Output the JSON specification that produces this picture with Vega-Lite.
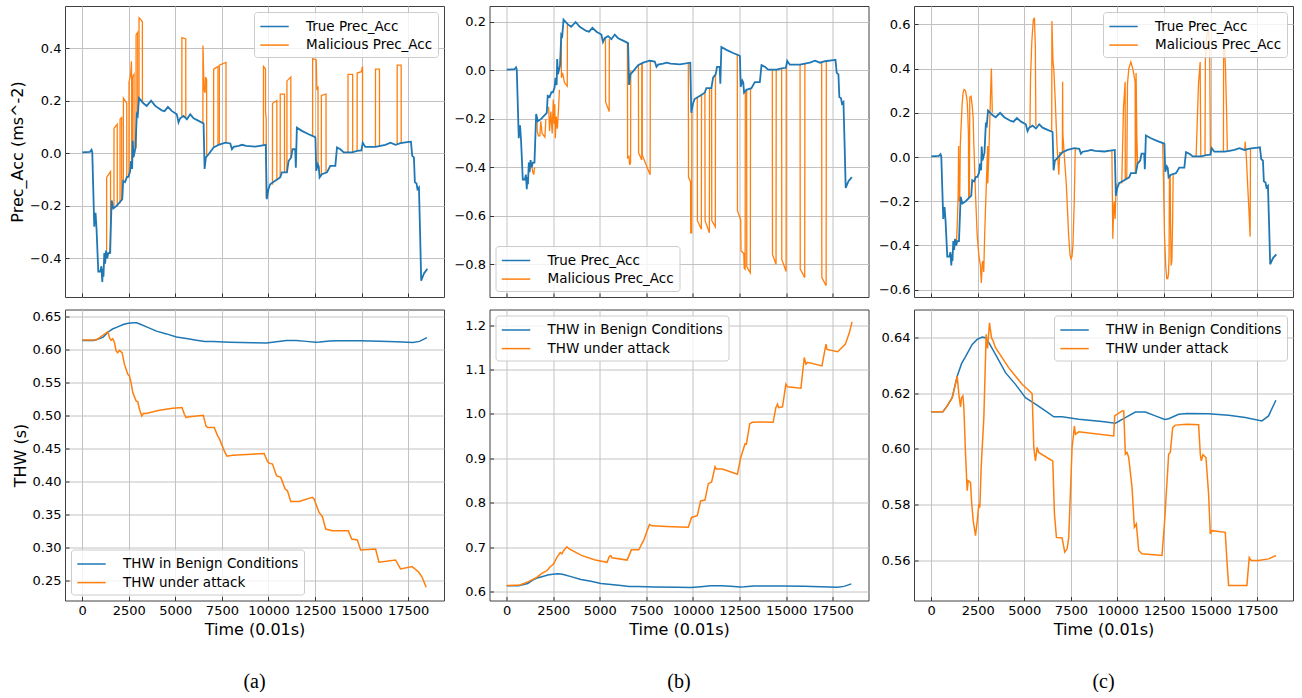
{
  "$schema": "https://vega.github.io/schema/vega-lite/v6.json",
  "padding": {"left": 8, "top": 5, "right": 8, "bottom": 0},
  "background": "white",
  "config": {
    "font": "DejaVu Sans",
    "view": {"stroke": "#404040", "strokeWidth": 1},
    "axis": {"labelFont": "DejaVu Sans", "labelFontSize": 13, "labelColor": "#000", "titleFont": "DejaVu Sans", "titleFontSize": 16, "titleFontWeight": "normal", "titleColor": "#000", "gridColor": "#c2c2c2", "gridWidth": 1, "domain": false, "tickColor": "#333", "tickSize": -4, "labelPadding": 8, "titlePadding": 4, "labelOverlap": false, "tickCount": 20},
    "legend": {"labelFont": "DejaVu Sans", "labelFontSize": 13.5, "labelColor": "#000", "labelLimit": 400, "symbolType": "M-1.7,0L1.7,0", "symbolSize": 280, "symbolOffset": 6, "symbolStrokeWidth": 1.5, "labelOffset": 22, "padding": 5, "rowPadding": 2.6, "fillColor": "rgba(255,255,255,0.8)", "strokeColor": "#cccccc", "cornerRadius": 3, "offset": 6, "title": null}
  },
  "datasets": {
    "true_acc": [
      {"t":0,"v":0.003},{"t":413,"v":0.005},{"t":500,"v":0.013},{"t":540,"v":0.003},{"t":646,"v":-0.28},{"t":680,"v":-0.23},{"t":718,"v":-0.23},{"t":770,"v":-0.29},{"t":862,"v":-0.45},{"t":970,"v":-0.45},{"t":1030,"v":-0.43},{"t":1077,"v":-0.49},{"t":1110,"v":-0.44},{"t":1140,"v":-0.47},{"t":1185,"v":-0.38},{"t":1230,"v":-0.42},{"t":1280,"v":-0.37},{"t":1340,"v":-0.40},{"t":1400,"v":-0.38},{"t":1490,"v":-0.38},{"t":1580,"v":-0.18},{"t":1670,"v":-0.21},{"t":1850,"v":-0.2},{"t":2150,"v":-0.175},{"t":2200,"v":-0.105},{"t":2300,"v":-0.11},{"t":2400,"v":-0.09},{"t":2480,"v":-0.09},{"t":2570,"v":-0.07},{"t":2620,"v":-0.03},{"t":2680,"v":-0.06},{"t":2710,"v":0.047},{"t":2750,"v":-0.016},{"t":2800,"v":0.0},{"t":2860,"v":0.02},{"t":2930,"v":0.148},{"t":2980,"v":0.142},{"t":3050,"v":0.21},{"t":3285,"v":0.19},{"t":3460,"v":0.18},{"t":3700,"v":0.2},{"t":3920,"v":0.18},{"t":4270,"v":0.163},{"t":4420,"v":0.16},{"t":4600,"v":0.176},{"t":4820,"v":0.16},{"t":5080,"v":0.148},{"t":5170,"v":0.117},{"t":5260,"v":0.133},{"t":5440,"v":0.142},{"t":5620,"v":0.129},{"t":5800,"v":0.148},{"t":5980,"v":0.133},{"t":6250,"v":0.123},{"t":6515,"v":0.113},{"t":6570,"v":-0.06},{"t":6640,"v":-0.016},{"t":6785,"v":-0.004},{"t":7055,"v":0.022},{"t":7325,"v":0.032},{"t":7680,"v":0.04},{"t":7950,"v":0.037},{"t":8040,"v":0.015},{"t":8130,"v":0.024},{"t":8400,"v":0.028},{"t":8580,"v":0.032},{"t":8800,"v":0.028},{"t":9300,"v":0.025},{"t":9856,"v":0.032},{"t":9910,"v":-0.175},{"t":10000,"v":-0.137},{"t":10090,"v":-0.118},{"t":10360,"v":-0.105},{"t":10630,"v":-0.092},{"t":10720,"v":-0.073},{"t":10990,"v":-0.073},{"t":11080,"v":-0.03},{"t":11220,"v":-0.016},{"t":11290,"v":0.015},{"t":11435,"v":0.015},{"t":11470,"v":-0.055},{"t":11525,"v":0.097},{"t":11795,"v":0.085},{"t":12155,"v":0.072},{"t":12480,"v":0.062},{"t":12520,"v":0.06},{"t":12565,"v":-0.067},{"t":12650,"v":-0.042},{"t":12700,"v":-0.05},{"t":12745,"v":-0.092},{"t":12870,"v":-0.08},{"t":13140,"v":-0.073},{"t":13320,"v":-0.048},{"t":13590,"v":-0.048},{"t":13680,"v":0.022},{"t":13860,"v":0.015},{"t":14040,"v":0.003},{"t":14490,"v":0.003},{"t":14760,"v":0.009},{"t":14990,"v":0.011},{"t":15060,"v":0.04},{"t":15200,"v":0.024},{"t":15745,"v":0.024},{"t":16010,"v":0.028},{"t":16280,"v":0.032},{"t":16550,"v":0.04},{"t":16820,"v":0.032},{"t":17090,"v":0.038},{"t":17540,"v":0.043},{"t":17650,"v":0.044},{"t":17720,"v":-0.01},{"t":17810,"v":-0.016},{"t":17860,"v":-0.11},{"t":17950,"v":-0.115},{"t":18000,"v":-0.137},{"t":18080,"v":-0.13},{"t":18140,"v":-0.3},{"t":18200,"v":-0.485},{"t":18350,"v":-0.457},{"t":18530,"v":-0.44}
    ],
    "mal_a": [
      {"seg":1,"t":1310,"v":-0.37},{"seg":1,"t":1312,"v":-0.092},{"seg":1,"t":1520,"v":-0.07},{"seg":1,"t":1522,"v":-0.38},
      {"seg":2,"t":1705,"v":-0.2},{"seg":2,"t":1707,"v":0.095},{"seg":2,"t":1880,"v":0.11},{"seg":2,"t":1882,"v":-0.2},
      {"seg":3,"t":2030,"v":-0.19},{"seg":3,"t":2032,"v":0.13},{"seg":3,"t":2120,"v":0.135},{"seg":3,"t":2122,"v":-0.18},
      {"seg":4,"t":2210,"v":-0.105},{"seg":4,"t":2212,"v":0.21},{"seg":4,"t":2300,"v":0.2},{"seg":4,"t":2390,"v":0.19},{"seg":4,"t":2392,"v":-0.095},
      {"seg":5,"t":2510,"v":-0.085},{"seg":5,"t":2512,"v":0.27},{"seg":5,"t":2600,"v":0.3},{"seg":5,"t":2640,"v":0.35},{"seg":5,"t":2655,"v":0.28},{"seg":5,"t":2657,"v":-0.05},
      {"seg":6,"t":2690,"v":-0.03},{"seg":6,"t":2692,"v":0.29},{"seg":6,"t":2780,"v":0.3},{"seg":6,"t":2782,"v":0.0},
      {"seg":7,"t":2890,"v":0.02},{"seg":7,"t":2892,"v":0.45},{"seg":7,"t":2980,"v":0.46},{"seg":7,"t":2982,"v":0.148},
      {"seg":8,"t":3050,"v":0.21},{"seg":8,"t":3052,"v":0.515},{"seg":8,"t":3130,"v":0.51},{"seg":8,"t":3230,"v":0.5},{"seg":8,"t":3232,"v":0.19},
      {"seg":9,"t":5350,"v":0.14},{"seg":9,"t":5352,"v":0.44},{"seg":9,"t":5560,"v":0.435},{"seg":9,"t":5562,"v":0.135},
      {"seg":10,"t":6480,"v":0.113},{"seg":10,"t":6482,"v":0.41},{"seg":10,"t":6540,"v":0.24},{"seg":10,"t":6600,"v":0.23},{"seg":10,"t":6620,"v":0.29},{"seg":10,"t":6680,"v":0.28},{"seg":10,"t":6682,"v":-0.01},
      {"seg":11,"t":7055,"v":0.022},{"seg":11,"t":7057,"v":0.32},{"seg":11,"t":7290,"v":0.33},{"seg":11,"t":7292,"v":0.03},
      {"seg":12,"t":7360,"v":0.032},{"seg":12,"t":7362,"v":0.335},{"seg":12,"t":7720,"v":0.345},{"seg":12,"t":7722,"v":0.04},
      {"seg":13,"t":9730,"v":0.032},{"seg":13,"t":9732,"v":0.33},{"seg":13,"t":9840,"v":0.32},{"seg":13,"t":9845,"v":0.155},{"seg":13,"t":9880,"v":0.13},{"seg":13,"t":9882,"v":-0.17},
      {"seg":14,"t":10215,"v":-0.12},{"seg":14,"t":10217,"v":0.19},{"seg":14,"t":10450,"v":0.2},{"seg":14,"t":10452,"v":-0.1},
      {"seg":15,"t":10630,"v":-0.092},{"seg":15,"t":10632,"v":0.225},{"seg":15,"t":10860,"v":0.225},{"seg":15,"t":10862,"v":-0.073},
      {"seg":16,"t":10990,"v":-0.073},{"seg":16,"t":10992,"v":0.275},{"seg":16,"t":11200,"v":0.29},{"seg":16,"t":11202,"v":-0.02},
      {"seg":17,"t":12370,"v":0.066},{"seg":17,"t":12372,"v":0.36},{"seg":17,"t":12565,"v":0.355},{"seg":17,"t":12600,"v":0.24},{"seg":17,"t":12660,"v":0.255},{"seg":17,"t":12662,"v":-0.05},
      {"seg":18,"t":12840,"v":-0.085},{"seg":18,"t":12842,"v":0.22},{"seg":18,"t":13090,"v":0.225},{"seg":18,"t":13092,"v":-0.073},
      {"seg":19,"t":14270,"v":0.003},{"seg":19,"t":14272,"v":0.3},{"seg":19,"t":14520,"v":0.3},{"seg":19,"t":14522,"v":0.003},
      {"seg":20,"t":14760,"v":0.009},{"seg":20,"t":14762,"v":0.305},{"seg":20,"t":14990,"v":0.31},{"seg":20,"t":15050,"v":0.33},{"seg":20,"t":15052,"v":0.04},
      {"seg":21,"t":15745,"v":0.024},{"seg":21,"t":15747,"v":0.32},{"seg":21,"t":15960,"v":0.32},{"seg":21,"t":15962,"v":0.026},
      {"seg":22,"t":16910,"v":0.036},{"seg":22,"t":16912,"v":0.335},{"seg":22,"t":17125,"v":0.335},{"seg":22,"t":17127,"v":0.038}
    ],
    "mal_b": [
      {"seg":1,"t":1340,"v":-0.39},{"seg":1,"t":1400,"v":-0.42},{"seg":1,"t":1450,"v":-0.43},{"seg":1,"t":1500,"v":-0.40},
      {"seg":2,"t":1620,"v":-0.19},{"seg":2,"t":1640,"v":-0.25},{"seg":2,"t":1700,"v":-0.27},{"seg":2,"t":1780,"v":-0.27},{"seg":2,"t":1830,"v":-0.21},{"seg":2,"t":1900,"v":-0.26},{"seg":2,"t":2050,"v":-0.275},{"seg":2,"t":2100,"v":-0.2},
      {"seg":3,"t":2250,"v":-0.15},{"seg":3,"t":2300,"v":-0.25},{"seg":3,"t":2370,"v":-0.17},{"seg":3,"t":2440,"v":-0.26},{"seg":3,"t":2500,"v":-0.12},{"seg":3,"t":2540,"v":-0.22},{"seg":3,"t":2580,"v":-0.14},{"seg":3,"t":2610,"v":-0.28},{"seg":3,"t":2660,"v":-0.19},{"seg":3,"t":2720,"v":-0.24},{"seg":3,"t":2780,"v":-0.16},{"seg":3,"t":2830,"v":-0.08},
      {"seg":4,"t":2930,"v":0.15},{"seg":4,"t":2935,"v":-0.03},{"seg":4,"t":3000,"v":-0.01},{"seg":4,"t":3100,"v":-0.05},{"seg":4,"t":3250,"v":-0.065},{"seg":4,"t":3260,"v":0.19},
      {"seg":5,"t":5300,"v":0.135},{"seg":5,"t":5310,"v":-0.13},{"seg":5,"t":5500,"v":-0.17},{"seg":5,"t":5510,"v":0.13},
      {"seg":6,"t":6480,"v":0.115},{"seg":6,"t":6490,"v":-0.36},{"seg":6,"t":6560,"v":-0.355},{"seg":6,"t":6600,"v":-0.39},{"seg":6,"t":6650,"v":-0.38},{"seg":6,"t":6660,"v":0.0},
      {"seg":7,"t":7070,"v":0.022},{"seg":7,"t":7080,"v":-0.34},{"seg":7,"t":7250,"v":-0.37},{"seg":7,"t":7260,"v":0.03},
      {"seg":8,"t":7270,"v":0.03},{"seg":8,"t":7280,"v":-0.35},{"seg":8,"t":7700,"v":-0.43},{"seg":8,"t":7710,"v":0.04},
      {"seg":9,"t":9750,"v":0.032},{"seg":9,"t":9760,"v":-0.44},{"seg":9,"t":9870,"v":-0.46},{"seg":9,"t":9880,"v":-0.67},{"seg":9,"t":9930,"v":-0.67},{"seg":9,"t":9940,"v":-0.17},
      {"seg":10,"t":10230,"v":-0.11},{"seg":10,"t":10240,"v":-0.62},{"seg":10,"t":10450,"v":-0.655},{"seg":10,"t":10460,"v":-0.1},
      {"seg":11,"t":10640,"v":-0.09},{"seg":11,"t":10650,"v":-0.62},{"seg":11,"t":10880,"v":-0.67},{"seg":11,"t":10890,"v":-0.075},
      {"seg":12,"t":11000,"v":-0.073},{"seg":12,"t":11010,"v":-0.62},{"seg":12,"t":11200,"v":-0.645},{"seg":12,"t":11210,"v":-0.02},
      {"seg":13,"t":12380,"v":0.065},{"seg":13,"t":12390,"v":-0.58},{"seg":13,"t":12560,"v":-0.615},{"seg":13,"t":12580,"v":-0.745},{"seg":13,"t":12730,"v":-0.755},{"seg":13,"t":12750,"v":-0.815},{"seg":13,"t":12800,"v":-0.82},{"seg":13,"t":12810,"v":-0.09},
      {"seg":14,"t":12880,"v":-0.08},{"seg":14,"t":12890,"v":-0.81},{"seg":14,"t":13080,"v":-0.835},{"seg":14,"t":13090,"v":-0.075},
      {"seg":15,"t":14260,"v":0.003},{"seg":15,"t":14270,"v":-0.76},{"seg":15,"t":14460,"v":-0.80},{"seg":15,"t":14470,"v":0.005},
      {"seg":16,"t":14760,"v":0.009},{"seg":16,"t":14770,"v":-0.78},{"seg":16,"t":15000,"v":-0.83},{"seg":16,"t":15010,"v":0.011},
      {"seg":17,"t":15750,"v":0.024},{"seg":17,"t":15760,"v":-0.82},{"seg":17,"t":16000,"v":-0.855},{"seg":17,"t":16010,"v":0.028},
      {"seg":18,"t":16910,"v":0.036},{"seg":18,"t":16920,"v":-0.855},{"seg":18,"t":17150,"v":-0.888},{"seg":18,"t":17160,"v":0.038}
    ],
    "mal_c": [
      {"seg":1,"t":1340,"v":-0.40},{"seg":1,"t":1360,"v":-0.38},{"seg":1,"t":1400,"v":-0.30},{"seg":1,"t":1447,"v":-0.17},{"seg":1,"t":1470,"v":0.05},{"seg":1,"t":1500,"v":-0.2},{"seg":1,"t":1530,"v":-0.2},{"seg":1,"t":1560,"v":0.05},{"seg":1,"t":1610,"v":0.15},{"seg":1,"t":1660,"v":0.24},{"seg":1,"t":1710,"v":0.29},{"seg":1,"t":1760,"v":0.305},{"seg":1,"t":1840,"v":0.30},{"seg":1,"t":1900,"v":0.27},{"seg":1,"t":1930,"v":0.25},{"seg":1,"t":1960,"v":0.2},{"seg":1,"t":2000,"v":0.1},{"seg":1,"t":2010,"v":-0.18},{"seg":1,"t":2050,"v":-0.18},{"seg":1,"t":2070,"v":0.27},{"seg":1,"t":2140,"v":0.275},{"seg":1,"t":2200,"v":0.23},{"seg":1,"t":2250,"v":0.18},{"seg":1,"t":2290,"v":0.05},{"seg":1,"t":2370,"v":-0.15},{"seg":1,"t":2465,"v":-0.35},{"seg":1,"t":2550,"v":-0.44},{"seg":1,"t":2640,"v":-0.49},{"seg":1,"t":2690,"v":-0.57},{"seg":1,"t":2740,"v":-0.48},{"seg":1,"t":2770,"v":-0.47},{"seg":1,"t":2820,"v":-0.52},{"seg":1,"t":2870,"v":-0.35},{"seg":1,"t":2960,"v":-0.12},{"seg":1,"t":3030,"v":0.05},{"seg":1,"t":3036,"v":-0.12},{"seg":1,"t":3090,"v":0.0},{"seg":1,"t":3180,"v":0.27},{"seg":1,"t":3230,"v":0.40},{"seg":1,"t":3280,"v":0.2},
      {"seg":2,"t":5300,"v":0.135},{"seg":2,"t":5330,"v":0.35},{"seg":2,"t":5400,"v":0.52},{"seg":2,"t":5480,"v":0.62},{"seg":2,"t":5540,"v":0.63},{"seg":2,"t":5590,"v":0.5},{"seg":2,"t":5620,"v":0.14},
      {"seg":3,"t":6470,"v":0.115},{"seg":3,"t":6480,"v":0.615},{"seg":3,"t":6500,"v":0.55},{"seg":3,"t":6537,"v":0.43},{"seg":3,"t":6580,"v":0.4},{"seg":3,"t":6662,"v":0.25},{"seg":3,"t":6751,"v":0.056},{"seg":3,"t":6850,"v":-0.08},{"seg":3,"t":6900,"v":0.02},{"seg":3,"t":7040,"v":0.02},{"seg":3,"t":7055,"v":0.34},{"seg":3,"t":7070,"v":0.1},{"seg":3,"t":7150,"v":0.0},{"seg":3,"t":7251,"v":-0.12},{"seg":3,"t":7376,"v":-0.35},{"seg":3,"t":7450,"v":-0.44},{"seg":3,"t":7501,"v":-0.46},{"seg":3,"t":7560,"v":-0.45},{"seg":3,"t":7608,"v":-0.4},{"seg":3,"t":7680,"v":-0.2},{"seg":3,"t":7733,"v":0.04},
      {"seg":4,"t":9700,"v":0.032},{"seg":4,"t":9750,"v":-0.37},{"seg":4,"t":9790,"v":-0.25},{"seg":4,"t":9820,"v":-0.2},{"seg":4,"t":9875,"v":-0.28},{"seg":4,"t":9930,"v":-0.12},
      {"seg":5,"t":10230,"v":-0.12},{"seg":5,"t":10322,"v":0.22},{"seg":5,"t":10412,"v":0.34},{"seg":5,"t":10420,"v":-0.1},{"seg":5,"t":10500,"v":-0.09},{"seg":5,"t":10537,"v":0.33},{"seg":5,"t":10608,"v":0.40},{"seg":5,"t":10716,"v":0.43},{"seg":5,"t":10823,"v":0.40},{"seg":5,"t":10949,"v":0.34},{"seg":5,"t":10960,"v":-0.07},{"seg":5,"t":10990,"v":-0.07},{"seg":5,"t":11000,"v":0.38},{"seg":5,"t":11040,"v":0.1},{"seg":5,"t":11080,"v":-0.03},
      {"seg":6,"t":12430,"v":0.06},{"seg":6,"t":12470,"v":-0.1},{"seg":6,"t":12524,"v":-0.35},{"seg":6,"t":12595,"v":-0.5},{"seg":6,"t":12649,"v":-0.55},{"seg":6,"t":12700,"v":-0.55},{"seg":6,"t":12739,"v":-0.53},{"seg":6,"t":12770,"v":-0.45},{"seg":6,"t":12790,"v":-0.1},{"seg":6,"t":12830,"v":-0.08},{"seg":6,"t":12850,"v":-0.3},{"seg":6,"t":12882,"v":-0.49},{"seg":6,"t":12920,"v":-0.47},{"seg":6,"t":12960,"v":-0.3},{"seg":6,"t":12990,"v":-0.08},
      {"seg":7,"t":14224,"v":0.003},{"seg":7,"t":14350,"v":0.33},{"seg":7,"t":14440,"v":0.43},{"seg":7,"t":14475,"v":0.003},
      {"seg":8,"t":14700,"v":0.009},{"seg":8,"t":14720,"v":0.45},{"seg":8,"t":14800,"v":0.55},{"seg":8,"t":14880,"v":0.58},{"seg":8,"t":14950,"v":0.5},{"seg":8,"t":14990,"v":0.011},
      {"seg":9,"t":15690,"v":0.024},{"seg":9,"t":15700,"v":0.5},{"seg":9,"t":15740,"v":0.52},{"seg":9,"t":15800,"v":0.4},{"seg":9,"t":15860,"v":0.2},{"seg":9,"t":15900,"v":0.03},
      {"seg":10,"t":16840,"v":0.036},{"seg":10,"t":16856,"v":0.07},{"seg":10,"t":16920,"v":0.0},{"seg":10,"t":16981,"v":-0.11},{"seg":10,"t":17053,"v":-0.23},{"seg":10,"t":17124,"v":-0.36},{"seg":10,"t":17142,"v":0.038}
    ],
    "thw_benign": [
      {"t":0,"v":0.6133},{"t":626,"v":0.6133},{"t":858,"v":0.6154},{"t":1126,"v":0.6183},{"t":1395,"v":0.626},{"t":1627,"v":0.6305},{"t":1842,"v":0.633},{"t":2200,"v":0.6374},{"t":2467,"v":0.6392},{"t":2736,"v":0.640},{"t":2914,"v":0.6398},{"t":3093,"v":0.638},{"t":3451,"v":0.6338},{"t":3987,"v":0.6273},{"t":4524,"v":0.6231},{"t":5060,"v":0.6183},{"t":5596,"v":0.616},{"t":6133,"v":0.6136},{"t":6580,"v":0.6115},{"t":7027,"v":0.6115},{"t":7921,"v":0.6106},{"t":9172,"v":0.6098},{"t":9888,"v":0.6092},{"t":10424,"v":0.6112},{"t":10960,"v":0.6132},{"t":11497,"v":0.6132},{"t":12033,"v":0.6118},{"t":12534,"v":0.6105},{"t":12749,"v":0.6108},{"t":13285,"v":0.6124},{"t":13732,"v":0.6127},{"t":14894,"v":0.6126},{"t":15967,"v":0.612},{"t":16861,"v":0.6112},{"t":17755,"v":0.61},{"t":18112,"v":0.6118},{"t":18506,"v":0.6174}
    ],
    "thw_a": [
      {"t":0,"v":0.6138},{"t":750,"v":0.6138},{"t":1375,"v":0.6264},{"t":1465,"v":0.6173},{"t":1550,"v":0.6133},{"t":1643,"v":0.6158},{"t":1730,"v":0.61},{"t":1822,"v":0.5972},{"t":1910,"v":0.5947},{"t":2000,"v":0.5982},{"t":2140,"v":0.5947},{"t":2268,"v":0.577},{"t":2447,"v":0.562},{"t":2536,"v":0.5595},{"t":2625,"v":0.549},{"t":2715,"v":0.5343},{"t":2893,"v":0.5217},{"t":2982,"v":0.5207},{"t":3072,"v":0.5092},{"t":3197,"v":0.4991},{"t":3286,"v":0.5031},{"t":3429,"v":0.5026},{"t":4143,"v":0.5076},{"t":4858,"v":0.5107},{"t":5358,"v":0.5117},{"t":5483,"v":0.5016},{"t":5572,"v":0.4966},{"t":5661,"v":0.4975},{"t":6501,"v":0.5001},{"t":6644,"v":0.484},{"t":6733,"v":0.4815},{"t":7090,"v":0.4815},{"t":7269,"v":0.4689},{"t":7358,"v":0.465},{"t":7626,"v":0.4463},{"t":7769,"v":0.4382},{"t":8073,"v":0.4397},{"t":9769,"v":0.4422},{"t":9948,"v":0.4302},{"t":10037,"v":0.4277},{"t":10216,"v":0.4262},{"t":10430,"v":0.4086},{"t":10662,"v":0.4061},{"t":10895,"v":0.3884},{"t":11020,"v":0.3859},{"t":11198,"v":0.3698},{"t":11645,"v":0.3698},{"t":12359,"v":0.3759},{"t":12448,"v":0.3735},{"t":12716,"v":0.3532},{"t":12895,"v":0.3467},{"t":13073,"v":0.3281},{"t":13431,"v":0.3256},{"t":14288,"v":0.3256},{"t":14467,"v":0.313},{"t":14770,"v":0.3115},{"t":14949,"v":0.2964},{"t":15752,"v":0.2979},{"t":15931,"v":0.2778},{"t":16824,"v":0.2813},{"t":17092,"v":0.2677},{"t":17717,"v":0.2712},{"t":18074,"v":0.2627},{"t":18253,"v":0.2551},{"t":18467,"v":0.24}
    ],
    "thw_b": [
      {"t":0,"v":0.6135},{"t":718,"v":0.615},{"t":1167,"v":0.6225},{"t":1616,"v":0.632},{"t":1885,"v":0.641},{"t":2154,"v":0.647},{"t":2334,"v":0.656},{"t":2513,"v":0.662},{"t":2693,"v":0.677},{"t":2872,"v":0.688},{"t":2962,"v":0.685},{"t":3052,"v":0.692},{"t":3231,"v":0.701},{"t":3357,"v":0.696},{"t":4039,"v":0.681},{"t":4757,"v":0.671},{"t":5385,"v":0.666},{"t":5511,"v":0.679},{"t":5583,"v":0.681},{"t":5655,"v":0.676},{"t":6462,"v":0.671},{"t":6695,"v":0.694},{"t":7090,"v":0.694},{"t":7270,"v":0.709},{"t":7360,"v":0.716},{"t":7539,"v":0.737},{"t":7665,"v":0.751},{"t":7808,"v":0.748},{"t":8885,"v":0.746},{"t":9747,"v":0.745},{"t":9926,"v":0.767},{"t":10231,"v":0.771},{"t":10411,"v":0.804},{"t":10644,"v":0.806},{"t":10824,"v":0.843},{"t":11003,"v":0.847},{"t":11183,"v":0.881},{"t":11255,"v":0.876},{"t":11578,"v":0.876},{"t":12386,"v":0.864},{"t":12565,"v":0.902},{"t":12798,"v":0.933},{"t":12870,"v":0.932},{"t":13050,"v":0.978},{"t":13193,"v":0.981},{"t":13642,"v":0.982},{"t":14306,"v":0.981},{"t":14450,"v":1.014},{"t":14540,"v":1.022},{"t":14594,"v":1.014},{"t":14808,"v":1.016},{"t":14988,"v":1.067},{"t":15078,"v":1.061},{"t":15796,"v":1.058},{"t":15976,"v":1.127},{"t":16066,"v":1.112},{"t":16156,"v":1.116},{"t":16927,"v":1.108},{"t":17142,"v":1.157},{"t":17196,"v":1.145},{"t":17770,"v":1.14},{"t":18183,"v":1.157},{"t":18399,"v":1.183},{"t":18543,"v":1.207}
    ],
    "thw_c": [
      {"t":0,"v":0.6133},{"t":626,"v":0.6133},{"t":858,"v":0.6154},{"t":1126,"v":0.6183},{"t":1395,"v":0.626},{"t":1484,"v":0.6195},{"t":1573,"v":0.615},{"t":1627,"v":0.6183},{"t":1700,"v":0.619},{"t":1753,"v":0.6148},{"t":1842,"v":0.5981},{"t":1931,"v":0.585},{"t":1985,"v":0.5886},{"t":2110,"v":0.588},{"t":2163,"v":0.5814},{"t":2253,"v":0.5743},{"t":2378,"v":0.5689},{"t":2467,"v":0.574},{"t":2557,"v":0.5802},{"t":2610,"v":0.579},{"t":2682,"v":0.5933},{"t":2825,"v":0.6112},{"t":2950,"v":0.641},{"t":3022,"v":0.636},{"t":3129,"v":0.6451},{"t":3236,"v":0.6398},{"t":3326,"v":0.6386},{"t":3451,"v":0.6362},{"t":4166,"v":0.629},{"t":4881,"v":0.6231},{"t":5418,"v":0.6198},{"t":5507,"v":0.6005},{"t":5596,"v":0.5957},{"t":5686,"v":0.6005},{"t":5775,"v":0.5987},{"t":6401,"v":0.5961},{"t":6526,"v":0.5957},{"t":6615,"v":0.5767},{"t":6723,"v":0.5683},{"t":7027,"v":0.5681},{"t":7170,"v":0.563},{"t":7295,"v":0.5642},{"t":7384,"v":0.5683},{"t":7563,"v":0.6005},{"t":7688,"v":0.6082},{"t":7742,"v":0.6052},{"t":7921,"v":0.6061},{"t":9798,"v":0.6046},{"t":9852,"v":0.6118},{"t":10245,"v":0.6136},{"t":10335,"v":0.6136},{"t":10424,"v":0.5981},{"t":10513,"v":0.5987},{"t":10603,"v":0.5969},{"t":10782,"v":0.5862},{"t":10907,"v":0.5719},{"t":11014,"v":0.5731},{"t":11140,"v":0.5636},{"t":11318,"v":0.5624},{"t":12391,"v":0.5618},{"t":12534,"v":0.5743},{"t":12749,"v":0.5981},{"t":12838,"v":0.5987},{"t":12963,"v":0.6076},{"t":13106,"v":0.6085},{"t":13732,"v":0.6088},{"t":14358,"v":0.6086},{"t":14447,"v":0.5981},{"t":14500,"v":0.5957},{"t":14590,"v":0.5979},{"t":14751,"v":0.5969},{"t":14894,"v":0.5838},{"t":14983,"v":0.5695},{"t":15073,"v":0.5707},{"t":15788,"v":0.5701},{"t":15877,"v":0.56},{"t":15967,"v":0.5511},{"t":16950,"v":0.5511},{"t":17075,"v":0.5611},{"t":17182,"v":0.56},{"t":17576,"v":0.56},{"t":18112,"v":0.5606},{"t":18506,"v":0.5618}
    ]
  },
  "columns": 3,
  "spacing": {"row": 12.5, "column": 45.5},
  "bounds": "flush",
  "resolve": {"scale": {"color": "independent", "x": "independent", "y": "independent"}, "legend": {"color": "independent"}},
  "concat": [
    {
      "width": 379, "height": 291,
      "layer": [
        {"data": {"name": "mal_a"}, "mark": {"type": "line", "strokeWidth": 1.3, "clip": true},
         "encoding": {
           "x": {"field": "t", "type": "quantitative", "scale": {"domain": [-925, 19425], "nice": false, "zero": false}, "axis": {"values": [0,2500,5000,7500,10000,12500,15000,17500], "tickCount": 20, "labels": false, "title": null}},
           "y": {"field": "v", "type": "quantitative", "scale": {"domain": [-0.547, 0.56], "nice": false, "zero": false}, "axis": {"values": [-0.4,-0.2,0,0.2,0.4], "tickCount": 20, "format": ".1f", "labelOverlap": false, "title": "Prec_Acc (ms^-2)"}},
           "detail": {"field": "seg", "type": "nominal"},
           "color": {"datum": "Malicious Prec_Acc", "type": "nominal", "scale": {"domain": ["True Prec_Acc", "Malicious Prec_Acc"], "range": ["#1f77b4", "#ff7f0e"]}, "legend": {"orient": "top-right"}}
         }},
        {"data": {"name": "true_acc"}, "mark": {"type": "line", "strokeWidth": 1.8, "clip": true},
         "encoding": {
           "x": {"field": "t", "type": "quantitative"},
           "y": {"field": "v", "type": "quantitative"},
           "color": {"datum": "True Prec_Acc", "type": "nominal"}
         }}
      ]
    },
    {
      "width": 379, "height": 291,
      "layer": [
        {"data": {"name": "mal_b"}, "mark": {"type": "line", "strokeWidth": 1.3, "clip": true},
         "encoding": {
           "x": {"field": "t", "type": "quantitative", "scale": {"domain": [-925, 19425], "nice": false, "zero": false}, "axis": {"values": [0,2500,5000,7500,10000,12500,15000,17500], "tickCount": 20, "labels": false, "title": null}},
           "y": {"field": "v", "type": "quantitative", "scale": {"domain": [-0.935, 0.266], "nice": false, "zero": false}, "axis": {"values": [-0.8,-0.6,-0.4,-0.2,0,0.2], "tickCount": 20, "format": ".1f", "labelOverlap": false, "title": null}},
           "detail": {"field": "seg", "type": "nominal"},
           "color": {"datum": "Malicious Prec_Acc", "type": "nominal", "scale": {"domain": ["True Prec_Acc", "Malicious Prec_Acc"], "range": ["#1f77b4", "#ff7f0e"]}, "legend": {"orient": "bottom-left"}}
         }},
        {"data": {"name": "true_acc"}, "mark": {"type": "line", "strokeWidth": 1.8, "clip": true},
         "encoding": {
           "x": {"field": "t", "type": "quantitative"},
           "y": {"field": "v", "type": "quantitative"},
           "color": {"datum": "True Prec_Acc", "type": "nominal"}
         }}
      ]
    },
    {
      "width": 379, "height": 291,
      "layer": [
        {"data": {"name": "mal_c"}, "mark": {"type": "line", "strokeWidth": 1.3, "clip": true},
         "encoding": {
           "x": {"field": "t", "type": "quantitative", "scale": {"domain": [-925, 19425], "nice": false, "zero": false}, "axis": {"values": [0,2500,5000,7500,10000,12500,15000,17500], "tickCount": 20, "labels": false, "title": null}},
           "y": {"field": "v", "type": "quantitative", "scale": {"domain": [-0.633, 0.683], "nice": false, "zero": false}, "axis": {"values": [-0.6,-0.4,-0.2,0,0.2,0.4,0.6], "tickCount": 20, "format": ".1f", "labelOverlap": false, "title": null}},
           "detail": {"field": "seg", "type": "nominal"},
           "color": {"datum": "Malicious Prec_Acc", "type": "nominal", "scale": {"domain": ["True Prec_Acc", "Malicious Prec_Acc"], "range": ["#1f77b4", "#ff7f0e"]}, "legend": {"orient": "top-right"}}
         }},
        {"data": {"name": "true_acc"}, "mark": {"type": "line", "strokeWidth": 1.8, "clip": true},
         "encoding": {
           "x": {"field": "t", "type": "quantitative"},
           "y": {"field": "v", "type": "quantitative"},
           "color": {"datum": "True Prec_Acc", "type": "nominal"}
         }}
      ]
    },
    {
      "width": 379, "height": 291,
      "title": {"text": "(a)", "orient": "bottom", "anchor": "middle", "font": "Liberation Serif", "fontSize": 20, "fontWeight": "normal", "color": "#000", "offset": 34},
      "layer": [
        {"data": {"name": "thw_benign"}, "mark": {"type": "line", "strokeWidth": 1.5, "clip": true},
         "encoding": {
           "x": {"field": "t", "type": "quantitative", "scale": {"domain": [-925, 19425], "nice": false, "zero": false}, "axis": {"values": [0,2500,5000,7500,10000,12500,15000,17500], "tickCount": 20, "format": "d", "labelOverlap": false, "title": "Time (0.01s)"}},
           "y": {"field": "v", "type": "quantitative", "scale": {"domain": [0.22, 0.66], "nice": false, "zero": false}, "axis": {"values": [0.25,0.3,0.35,0.4,0.45,0.5,0.55,0.6,0.65], "tickCount": 20, "format": ".2f", "labelOverlap": false, "title": "THW (s)"}},
           "color": {"datum": "THW in Benign Conditions", "type": "nominal", "scale": {"domain": ["THW in Benign Conditions", "THW under attack"], "range": ["#1f77b4", "#ff7f0e"]}, "legend": {"orient": "bottom-left"}}
         }},
        {"data": {"name": "thw_a"}, "mark": {"type": "line", "strokeWidth": 1.5, "clip": true},
         "encoding": {
           "x": {"field": "t", "type": "quantitative"},
           "y": {"field": "v", "type": "quantitative"},
           "color": {"datum": "THW under attack", "type": "nominal"}
         }}
      ]
    },
    {
      "width": 379, "height": 291,
      "title": {"text": "(b)", "orient": "bottom", "anchor": "middle", "font": "Liberation Serif", "fontSize": 20, "fontWeight": "normal", "color": "#000", "offset": 34},
      "layer": [
        {"data": {"name": "thw_benign"}, "mark": {"type": "line", "strokeWidth": 1.5, "clip": true},
         "encoding": {
           "x": {"field": "t", "type": "quantitative", "scale": {"domain": [-925, 19425], "nice": false, "zero": false}, "axis": {"values": [0,2500,5000,7500,10000,12500,15000,17500], "tickCount": 20, "format": "d", "labelOverlap": false, "title": "Time (0.01s)"}},
           "y": {"field": "v", "type": "quantitative", "scale": {"domain": [0.58, 1.235], "nice": false, "zero": false}, "axis": {"values": [0.6,0.7,0.8,0.9,1.0,1.1,1.2], "tickCount": 20, "format": ".1f", "labelOverlap": false, "title": null}},
           "color": {"datum": "THW in Benign Conditions", "type": "nominal", "scale": {"domain": ["THW in Benign Conditions", "THW under attack"], "range": ["#1f77b4", "#ff7f0e"]}, "legend": {"orient": "top-left"}}
         }},
        {"data": {"name": "thw_b"}, "mark": {"type": "line", "strokeWidth": 1.5, "clip": true},
         "encoding": {
           "x": {"field": "t", "type": "quantitative"},
           "y": {"field": "v", "type": "quantitative"},
           "color": {"datum": "THW under attack", "type": "nominal"}
         }}
      ]
    },
    {
      "width": 379, "height": 291,
      "title": {"text": "(c)", "orient": "bottom", "anchor": "middle", "font": "Liberation Serif", "fontSize": 20, "fontWeight": "normal", "color": "#000", "offset": 34},
      "layer": [
        {"data": {"name": "thw_benign"}, "mark": {"type": "line", "strokeWidth": 1.5, "clip": true},
         "encoding": {
           "x": {"field": "t", "type": "quantitative", "scale": {"domain": [-925, 19425], "nice": false, "zero": false}, "axis": {"values": [0,2500,5000,7500,10000,12500,15000,17500], "tickCount": 20, "format": "d", "labelOverlap": false, "title": "Time (0.01s)"}},
           "y": {"field": "v", "type": "quantitative", "scale": {"domain": [0.5457, 0.6499], "nice": false, "zero": false}, "axis": {"values": [0.56,0.58,0.6,0.62,0.64], "tickCount": 20, "format": ".2f", "labelOverlap": false, "title": null}},
           "color": {"datum": "THW in Benign Conditions", "type": "nominal", "scale": {"domain": ["THW in Benign Conditions", "THW under attack"], "range": ["#1f77b4", "#ff7f0e"]}, "legend": {"orient": "top-right"}}
         }},
        {"data": {"name": "thw_c"}, "mark": {"type": "line", "strokeWidth": 1.5, "clip": true},
         "encoding": {
           "x": {"field": "t", "type": "quantitative"},
           "y": {"field": "v", "type": "quantitative"},
           "color": {"datum": "THW under attack", "type": "nominal"}
         }}
      ]
    }
  ]
}
